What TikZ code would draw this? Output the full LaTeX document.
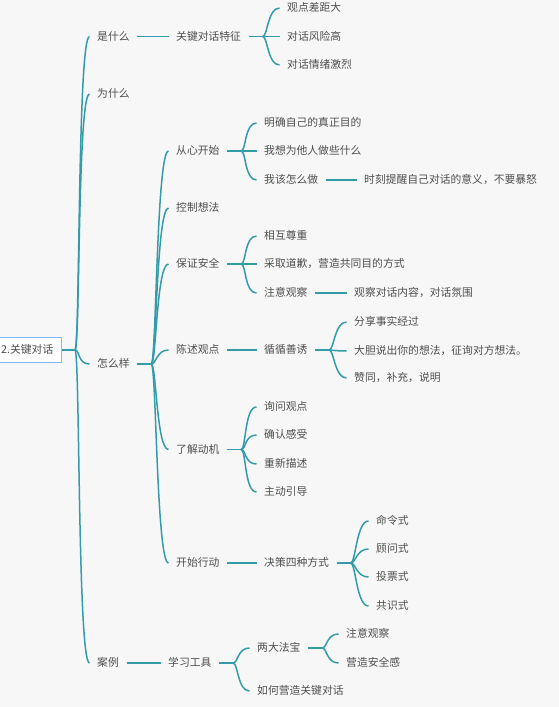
\documentclass[tikz,border=0pt]{standalone}
\usepackage{fontspec}
\setmainfont{Noto Sans CJK SC}
\definecolor{bgc}{RGB}{247,247,247}
\definecolor{lnc}{RGB}{52,155,170}
\definecolor{txc}{RGB}{78,78,78}
\definecolor{rootc}{RGB}{130,185,245}
\tikzset{
  t/.style={anchor=west, inner xsep=7.5pt, inner ysep=0pt, text=txc,
    font=\fontsize{10.8}{13}\selectfont, text height=0.88em, text depth=0.12em},
  rootbox/.style={anchor=east, draw=rootc, line width=1.3pt, fill=white, text=txc,
    inner xsep=8pt, minimum height=25pt, font=\fontsize{10.8}{13}\selectfont,
    text height=0.88em, text depth=0.12em},
  lnk/.style={draw=lnc, line width=1.5pt},
}
\newcommand\jcurve[2]{\draw[lnk] (#1) .. controls +(5,0) and +(-12,0) .. (#2.west);}
\begin{document}
\begin{tikzpicture}[x=1pt,y=-1pt]
\fill[bgc] (0,0) rectangle (559,707);
\useasboundingbox (0,0) rectangle (559,707);
\clip (0,0) rectangle (559,707);

% root
\node[rootbox] (root) at (62,350) {2.关键对话};
\coordinate (jr) at ([xshift=13pt]root.east);
\draw[lnk] (root.east) -- (jr);

% level 1
\node[t] (shi) at (89.5,36.5) {是什么};
\node[t] (wei) at (89.5,94) {为什么};
\node[t] (zen) at (89.5,364) {怎么样};
\node[t] (an) at (89.5,663) {案例};
\jcurve{jr}{shi}
\jcurve{jr}{wei}
\jcurve{jr}{zen}
\jcurve{jr}{an}

% 是什么
\node[t] (tz) at (168.5,36.5) {关键对话特征};
\draw[lnk] (shi.east) -- (tz.west);
\coordinate (jtz) at ([xshift=14pt]tz.east);
\draw[lnk] (tz.east) -- (jtz);
\node[t] (tz1) at (279.5,8) {观点差距大};
\node[t] (tz2) at (279.5,36.5) {对话风险高};
\node[t] (tz3) at (279.5,65) {对话情绪激烈};
\jcurve{jtz}{tz1}
\jcurve{jtz}{tz2}
\jcurve{jtz}{tz3}

% 怎么样
\coordinate (jz) at ([xshift=14pt]zen.east);
\draw[lnk] (zen.east) -- (jz);
\node[t] (c1) at (168.5,151) {从心开始};
\node[t] (c2) at (168.5,208) {控制想法};
\node[t] (c3) at (168.5,264) {保证安全};
\node[t] (c4) at (168.5,350) {陈述观点};
\node[t] (c5) at (168.5,449.5) {了解动机};
\node[t] (c6) at (168.5,563) {开始行动};
\jcurve{jz}{c1}
\jcurve{jz}{c2}
\jcurve{jz}{c3}
\jcurve{jz}{c4}
\jcurve{jz}{c5}
\jcurve{jz}{c6}

% 从心开始
\coordinate (j1) at ([xshift=14pt]c1.east);
\draw[lnk] (c1.east) -- (j1);
\node[t] (c11) at (256.5,123) {明确自己的真正目的};
\node[t] (c12) at (256.5,151) {我想为他人做些什么};
\node[t] (c13) at (256.5,180) {我该怎么做};
\node[t] (c131) at (356.5,180) {时刻提醒自己对话的意义，不要暴怒};
\jcurve{j1}{c11}
\jcurve{j1}{c12}
\jcurve{j1}{c13}
\draw[lnk] (c13.east) -- (c131.west);

% 保证安全
\coordinate (j3) at ([xshift=14pt]c3.east);
\draw[lnk] (c3.east) -- (j3);
\node[t] (c31) at (256.5,236) {相互尊重};
\node[t] (c32) at (256.5,264) {采取道歉，营造共同目的方式};
\node[t] (c33) at (256.5,293) {注意观察};
\node[t] (c331) at (346.5,293) {观察对话内容，对话氛围};
\jcurve{j3}{c31}
\jcurve{j3}{c32}
\jcurve{j3}{c33}
\draw[lnk] (c33.east) -- (c331.west);

% 陈述观点
\node[t] (c41) at (256.5,350) {循循善诱};
\draw[lnk] (c4.east) -- (c41.west);
\coordinate (j41) at ([xshift=14pt]c41.east);
\draw[lnk] (c41.east) -- (j41);
\node[t] (c411) at (346.5,322) {分享事实经过};
\node[t] (c412) at (346.5,351) {大胆说出你的想法，征询对方想法。};
\node[t] (c413) at (346.5,378) {赞同，补充，说明};
\jcurve{j41}{c411}
\jcurve{j41}{c412}
\jcurve{j41}{c413}

% 了解动机
\coordinate (j5) at ([xshift=14pt]c5.east);
\draw[lnk] (c5.east) -- (j5);
\node[t] (c51) at (256.5,407) {询问观点};
\node[t] (c52) at (256.5,435) {确认感受};
\node[t] (c53) at (256.5,464) {重新描述};
\node[t] (c54) at (256.5,492) {主动引导};
\jcurve{j5}{c51}
\jcurve{j5}{c52}
\jcurve{j5}{c53}
\jcurve{j5}{c54}

% 开始行动
\node[t] (c61) at (256.5,563) {决策四种方式};
\draw[lnk] (c6.east) -- (c61.west);
\coordinate (j61) at ([xshift=14pt]c61.east);
\draw[lnk] (c61.east) -- (j61);
\node[t] (c611) at (368.5,521) {命令式};
\node[t] (c612) at (368.5,549) {顾问式};
\node[t] (c613) at (368.5,577) {投票式};
\node[t] (c614) at (368.5,606) {共识式};
\jcurve{j61}{c611}
\jcurve{j61}{c612}
\jcurve{j61}{c613}
\jcurve{j61}{c614}

% 案例
\node[t] (a1) at (160.5,663) {学习工具};
\draw[lnk] (an.east) -- (a1.west);
\coordinate (ja1) at ([xshift=14pt]a1.east);
\draw[lnk] (a1.east) -- (ja1);
\node[t] (a11) at (249.5,648) {两大法宝};
\node[t] (a12) at (249.5,691) {如何营造关键对话};
\jcurve{ja1}{a11}
\jcurve{ja1}{a12}
\coordinate (ja11) at ([xshift=14pt]a11.east);
\draw[lnk] (a11.east) -- (ja11);
\node[t] (a111) at (338.5,634) {注意观察};
\node[t] (a112) at (338.5,663) {营造安全感};
\jcurve{ja11}{a111}
\jcurve{ja11}{a112}
\end{tikzpicture}
\end{document}
